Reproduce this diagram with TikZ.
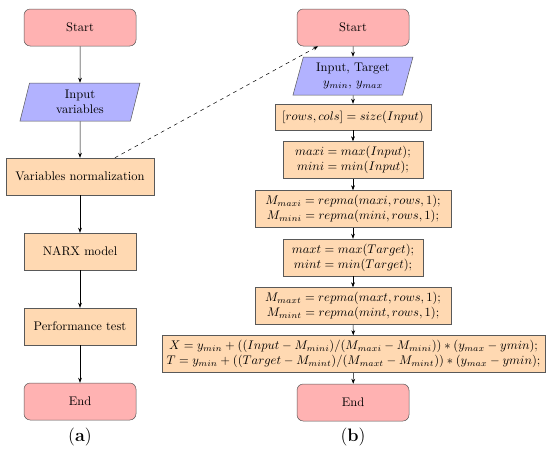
\documentclass[tikz,border=0pt]{standalone}
\usepackage{amsmath,amssymb}
\usepackage{xcolor}
\usepackage{tikz}
\usetikzlibrary{positioning, arrows.meta, shapes.geometric, calc}
\colorlet{sRed}{red!30}
\colorlet{sBlue}{blue!30}
\colorlet{sOrange}{orange!30}
\colorlet{nLine}{black!65}

\begin{document}
\begin{tikzpicture}[x=0.8pt, y=-0.8pt, >=Stealth,
      startstop/.style={draw=nLine, rounded corners=5pt, fill=sRed, minimum width=89.6pt,
        minimum height=29.6pt, align=center},
      io/.style={draw=nLine, trapezium, trapezium left angle=70, trapezium right angle=110,
        trapezium stretches body, fill=sBlue, minimum width=96pt, minimum height=30.4pt,
        align=center, inner sep=1pt},
      process/.style={draw=nLine, fill=sOrange, minimum height=29.6pt, align=center, inner sep=2pt},
      arrow/.style={-{Stealth[length=4pt, width=3pt]}, thin},
      caption/.style={font=\Large}]
      \useasboundingbox (0,0) rectangle (550,460);
      % (a) overall procedure
      \node[startstop] (startA) at (80,27.5) {Start};
      \node[io] (inA) at (80,102) {Input\\variables};
      \node[process, minimum width=118.4pt] (normA) at (80,176.5) {Variables normalization};
      \node[process, minimum width=89.6pt] (narx) at (80,251.5) {NARX model};
      \node[process, minimum width=89.6pt] (perf) at (80,326.5) {Performance test};
      \node[startstop] (endA) at (80,401.5) {End};
      \node[caption] (capA) at (80,437) {(\textbf{a})};
      \draw[arrow] (startA) -- (inA);
      \draw[arrow] (inA) -- (normA);
      \draw[arrow] (normA) -- (narx);
      \draw[arrow] (narx) -- (perf);
      \draw[arrow] (perf) -- (endA);
      % (b) normalization step
      \node[startstop] (startB) at (353,27.5) {Start};
      \node[io] (inB) at (353,76) {Input, Target\\$y_{min}$, $y_{max}$};
      \node[process, minimum width=124.8pt, minimum height=20.8pt] (size) at (353,117)
        {$[rows,cols] = size(Input)$};
      \node[process, minimum width=112pt] (maxi) at (353,160)
        {$maxi = max(Input);$\\$mini = min(Input);$};
      \node[process, minimum width=156.8pt] (Mmaxi) at (353,209)
        {$M_{maxi} = repma(maxi,rows,1);$\\$M_{mini} = repma(mini,rows,1);$};
      \node[process, minimum width=112pt] (maxt) at (353,257.5)
        {$maxt = max(Target);$\\$mint = min(Target);$};
      \node[process, minimum width=156.8pt] (Mmaxt) at (353,306)
        {$M_{maxt} = repma(maxt,rows,1);$\\$M_{mint} = repma(mint,rows,1);$};
      \node[process, minimum width=306.4pt] (scale) at (353.5,354)
        {$X = y_{min} + ((Input - M_{mini})/(M_{maxi} - M_{mini})) * (y_{max} - ymin);$\\
         $T = y_{min} + ((Target - M_{mint})/(M_{maxt} - M_{mint})) * (y_{max} - ymin);$};
      \node[startstop] (endB) at (353,402.5) {End};
      \node[caption] (capB) at (353,437) {(\textbf{b})};
      \draw[arrow] (startB) -- (inB);
      \draw[arrow] (inB) -- (size);
      \draw[arrow] (size) -- (maxi);
      \draw[arrow] (maxi) -- (Mmaxi);
      \draw[arrow] (Mmaxi) -- (maxt);
      \draw[arrow] (maxt) -- (Mmaxt);
      \draw[arrow] (Mmaxt) -- (scale);
      \draw[arrow] (scale) -- (endB);
      % zoom link
      \draw[arrow, dashed] ($(normA.north)!0.47!(normA.north east)$)
        -- ($(startB.south west)!0.19!(startB.south east)$);
    \end{tikzpicture}
\end{document}
